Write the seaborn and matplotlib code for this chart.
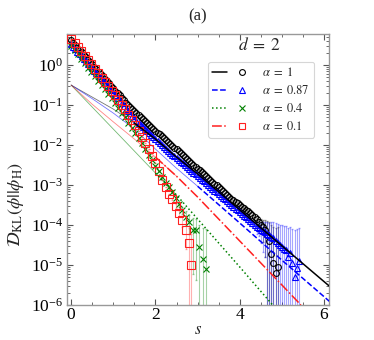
import numpy as np
import pandas as pd
import matplotlib
matplotlib.use('Agg')
import matplotlib.pyplot as plt
from matplotlib.legend_handler import HandlerTuple
from matplotlib.ticker import LogLocator, FixedLocator, MultipleLocator, NullFormatter
import seaborn as sns

sns.set_style('ticks')
plt.rcParams['font.family'] = ['Liberation Serif', 'DejaVu Serif']
plt.rcParams['mathtext.fontset'] = 'stix'

# ---- data (values are log10 of D_KL) ----
black_s = [0.00, 0.05, 0.10, 0.15, 0.20, 0.25, 0.30, 0.35, 0.40, 0.45, 0.50, 0.55, 0.60, 0.65, 0.70,
           0.75, 0.80, 0.85, 0.90, 0.95, 1.00, 1.05, 1.10, 1.15, 1.20, 1.25, 1.30, 1.35, 1.40, 1.45,
           1.50, 1.55, 1.60, 1.65, 1.70, 1.75, 1.80, 1.85, 1.90, 1.95, 2.00, 2.05, 2.10, 2.15, 2.20,
           2.25, 2.30, 2.35, 2.40, 2.45, 2.50, 2.55, 2.60, 2.65, 2.70, 2.75, 2.80, 2.85, 2.90, 2.95,
           3.00, 3.05, 3.10, 3.15, 3.20, 3.25, 3.30, 3.35, 3.40, 3.45, 3.50, 3.55, 3.60, 3.65, 3.70,
           3.75, 3.80, 3.85, 3.90, 3.95, 4.00, 4.05, 4.10, 4.15, 4.20, 4.25, 4.30, 4.35, 4.40, 4.45,
           4.50, 4.55, 4.60, 4.65, 4.70, 4.75, 4.80, 4.85, 4.90]
black_log = [0.62, 0.56, 0.50, 0.44, 0.38, 0.32, 0.26, 0.20, 0.14, 0.08, 0.02, -0.04, -0.10, -0.16, -0.22,
             -0.28, -0.34, -0.40, -0.46, -0.52, -0.58, -0.64, -0.70, -0.76, -0.82, -0.88, -0.94, -1.00, -1.05, -1.10,
             -1.15, -1.20, -1.25, -1.30, -1.35, -1.40, -1.45, -1.50, -1.55, -1.59, -1.64, -1.69, -1.73, -1.78, -1.83,
             -1.88, -1.92, -1.97, -2.02, -2.07, -2.11, -2.16, -2.21, -2.25, -2.30, -2.35, -2.40, -2.44, -2.49, -2.54,
             -2.59, -2.63, -2.68, -2.73, -2.78, -2.82, -2.87, -2.92, -2.97, -3.01, -3.06, -3.11, -3.16, -3.20, -3.25,
             -3.30, -3.34, -3.38, -3.42, -3.46, -3.50, -3.54, -3.58, -3.62, -3.66, -3.70, -3.75, -3.80, -3.86, -3.92,
             -4.00, -4.06, -4.12, -4.25, -4.40, -4.72, -4.95, -5.20, -5.05]
black_err = [0] * 88 + [1e-5, 2e-5, 4e-5, 5e-5, 6e-5, 7e-5, 8e-5, 8e-5, 8e-5, 8e-5, 8e-5]

blue_s = black_s + [4.95, 5.00, 5.05, 5.10, 5.15, 5.20, 5.25, 5.30, 5.35, 5.40]
blue_log = [0.52, 0.46, 0.40, 0.34, 0.28, 0.22, 0.16, 0.10, 0.04, -0.02, -0.08, -0.14, -0.20, -0.26, -0.32,
            -0.38, -0.44, -0.50, -0.57, -0.63, -0.70, -0.76, -0.83, -0.89, -0.96, -1.02, -1.09, -1.15, -1.21, -1.27,
            -1.33, -1.39, -1.44, -1.50, -1.55, -1.61, -1.66, -1.71, -1.76, -1.81, -1.86, -1.91, -1.96, -2.00, -2.05,
            -2.10, -2.14, -2.19, -2.24, -2.28, -2.33, -2.37, -2.42, -2.46, -2.51, -2.55, -2.60, -2.64, -2.69, -2.73,
            -2.78, -2.82, -2.87, -2.91, -2.96, -3.00, -3.05, -3.09, -3.14, -3.18, -3.23, -3.27, -3.32, -3.36, -3.41,
            -3.45, -3.50, -3.54, -3.59, -3.63, -3.68, -3.72, -3.77, -3.81, -3.86, -3.90, -3.95, -3.99, -4.04, -4.08,
            -4.12, -4.15, -4.18, -4.22, -4.26, -4.30, -4.33, -4.40, -4.45,
            -4.50, -4.55, -4.60, -4.63, -4.80, -4.70, -4.95, -5.30, -5.07, -4.90]
blue_err = [0] * 84 + [1e-5, 1e-5, 2e-5, 2e-5, 3e-5, 3e-5, 4e-5, 5e-5, 5e-5, 6e-5, 6e-5, 7e-5, 7e-5, 7e-5, 7e-5,
                       7e-5, 7e-5, 7e-5, 7e-5, 7e-5, 7e-5, 7e-5, 7e-5, 7e-5, 7e-5]

green_s = [0.00, 0.08, 0.16, 0.24, 0.32, 0.40, 0.48, 0.56, 0.64, 0.72, 0.80, 0.88, 0.96, 1.04, 1.12, 1.20,
           1.28, 1.36, 1.44, 1.52, 1.60, 1.68, 1.76, 1.84, 1.92, 2.00, 2.08, 2.16, 2.24, 2.32, 2.40, 2.48,
           2.56, 2.64, 2.72, 2.80, 2.88, 2.96, 3.04, 3.12, 3.20]
green_log = [0.48, 0.37, 0.27, 0.16, 0.05, -0.06, -0.17, -0.28, -0.39, -0.50, -0.61, -0.72, -0.83, -0.95, -1.07, -1.19,
             -1.31, -1.44, -1.57, -1.70, -1.83, -1.96, -2.10, -2.24, -2.38, -2.52, -2.66, -2.80, -2.94, -3.06, -3.18, -3.32,
             -3.48, -3.62, -3.80, -3.92, -4.12, -4.13, -4.55, -4.85, -5.10]
green_err = [0] * 28 + [3e-5, 3e-5, 4e-5, 4e-5, 5e-5, 5e-5, 6e-5, 6e-5, 7e-5, 7e-5, 7e-5, 7e-5, 7e-5]

red_s = [0.00, 0.08, 0.16, 0.24, 0.32, 0.40, 0.48, 0.56, 0.64, 0.72, 0.80, 0.88, 0.96, 1.04, 1.12, 1.20,
         1.28, 1.36, 1.44, 1.52, 1.60, 1.68, 1.76, 1.84, 1.92, 2.00, 2.08, 2.16, 2.24, 2.32, 2.40, 2.48,
         2.56, 2.64, 2.72, 2.80, 2.85]
red_log = [0.65, 0.55, 0.45, 0.35, 0.24, 0.13, 0.02, -0.09, -0.20, -0.31, -0.42, -0.53, -0.64, -0.75, -0.87, -0.99,
           -1.11, -1.24, -1.37, -1.51, -1.65, -1.80, -1.95, -2.11, -2.28, -2.45, -2.66, -2.88, -3.06, -3.22, -3.35, -3.52,
           -3.70, -3.88, -4.12, -4.45, -5.00]
red_err = [0] * 30 + [3e-5, 3e-5, 4e-5, 4e-5, 5e-5, 5e-5, 5e-5]

# theory curves
line_s = {'k': [0.0, 0.5, 1.0, 1.5, 2.0, 2.5, 3.0, 4.0, 5.0, 6.15],
          'b': [0.0, 0.5, 1.0, 1.5, 2.0, 2.5, 3.0, 4.0, 5.0, 6.15],
          'g': [0.0, 0.5, 1.0, 1.5, 2.0, 2.5, 3.0, 4.0, 4.78],
          'r': [0.0, 0.5, 1.0, 1.5, 2.0, 2.5, 3.0, 4.0, 5.0, 5.45]}
line_log = {'k': [-0.50, -0.80, -1.10, -1.45, -1.85, -2.30, -2.72, -3.62, -4.52, -5.55],
            'b': [-0.50, -0.84, -1.20, -1.60, -2.10, -2.58, -3.03, -3.95, -4.88, -5.93],
            'g': [-0.50, -1.05, -1.60, -2.15, -2.70, -3.25, -3.85, -5.05, -6.00],
            'r': [-0.50, -0.98, -1.42, -1.85, -2.30, -2.78, -3.30, -4.40, -5.50, -6.00]}
line_break = {'k': 1.5, 'b': 3.0, 'g': 2.0, 'r': 2.0}

labels = [r'$\alpha\;=\;1$', r'$\alpha\;=\;0.87$', r'$\alpha\;=\;0.4$', r'$\alpha\;=\;0.1$']
y_decades = [1e-6, 1e-5, 1e-4, 1e-3, 1e-2, 1e-1, 1e0]

series = [
    ('k', 'black', '-', 'o', black_s, black_log, black_err, 4.2),
    ('b', 'blue', '--', '^', blue_s, blue_log, blue_err, 4.4),
    ('g', 'green', ':', 'x', green_s, green_log, green_err, 3.8),
    ('r', '#ff2020', '-.', 's', red_s, red_log, red_err, 5.4),
]

fig = plt.figure(figsize=(3.74, 3.4), dpi=100)
ax = fig.add_axes([0.179, 0.103, 0.701, 0.797])
ax.set_yscale('log')

handles = []
for key, col, ls, mk, s, lg, err, ms in series:
    s = np.array(s)
    v = 10.0 ** np.array(lg)
    e = np.array(err, dtype=float)
    lo = np.where(e >= v, v - 1e-9, e)
    ax.errorbar(s, v, yerr=[lo, e], fmt='none', ecolor=col, elinewidth=0.8,
                alpha=0.35, capsize=1.0, zorder=2)
    ax.plot(s, v, ls='none', marker=mk, ms=ms, mfc='none', mec=col, mew=0.8, zorder=3)

    ls_ = np.array(line_s[key])
    lv = 10.0 ** np.array(line_log[key])
    df = pd.DataFrame({'s': ls_, 'v': lv})
    br = line_break[key]
    early = df[df['s'] <= br + 0.51]
    sns.lineplot(data=early, x='s', y='v', color=col, lw=0.6, alpha=0.55, ax=ax, zorder=1)
    late = df[df['s'] >= br]
    sns.lineplot(data=late, x='s', y='v', color=col, lw=1.1, linestyle=ls, ax=ax, zorder=4)

    hl, = ax.plot([], [], color=col, ls=ls, lw=1.1)
    hm, = ax.plot([], [], ls='none', marker=mk, ms=4.2, mfc='none', mec=col, mew=0.8)
    handles.append((hl, hm))

ax.set_xlim(-0.1, 6.12)
ax.set_ylim(1e-6, 6)
ax.set_xticks([0, 2, 4, 6])
ax.xaxis.set_minor_locator(MultipleLocator(0.5))
ax.yaxis.set_major_locator(FixedLocator(y_decades))
ax.yaxis.set_minor_locator(LogLocator(base=10, subs=np.arange(2, 10), numticks=20))
ax.yaxis.set_minor_formatter(NullFormatter())
ax.tick_params(which='both', direction='in', top=True, right=True, colors='#555555',
               labelcolor='black', labelsize=12.5)
ax.tick_params(which='major', length=4, pad=3)
ax.tick_params(axis='x', which='major', labelsize=12.5, pad=1.5)
ax.tick_params(which='minor', length=2)
for sp in ax.spines.values():
    sp.set_color('#999999')
    sp.set_linewidth(1.0)

ax.set_xlabel(r'$s$', fontsize=12, labelpad=-1)
ax.set_ylabel(r'$\mathcal{D}_{\rm KL}(\phi||\phi_{\rm H})$', fontsize=13)
ax.yaxis.set_label_coords(-0.155, 0.37)
ax.set_title('(a)', fontsize=12, pad=10)

leg = ax.legend(handles, labels, handler_map={tuple: HandlerTuple(ndivide=None, pad=0.6)},
                loc='upper right', bbox_to_anchor=(0.943, 0.897), fontsize=9, handlelength=3.0,
                frameon=True, fancybox=True, borderpad=0.35, labelspacing=0.4, handletextpad=1.0,
                borderaxespad=0.0)
leg.get_frame().set_edgecolor('#cccccc')
leg.get_frame().set_linewidth(0.8)
ax.text(0.735, 0.957, r'$d\;=\;2$', transform=ax.transAxes, fontsize=12.5, ha='center', va='center')

fig.savefig('out.png', dpi=100)
